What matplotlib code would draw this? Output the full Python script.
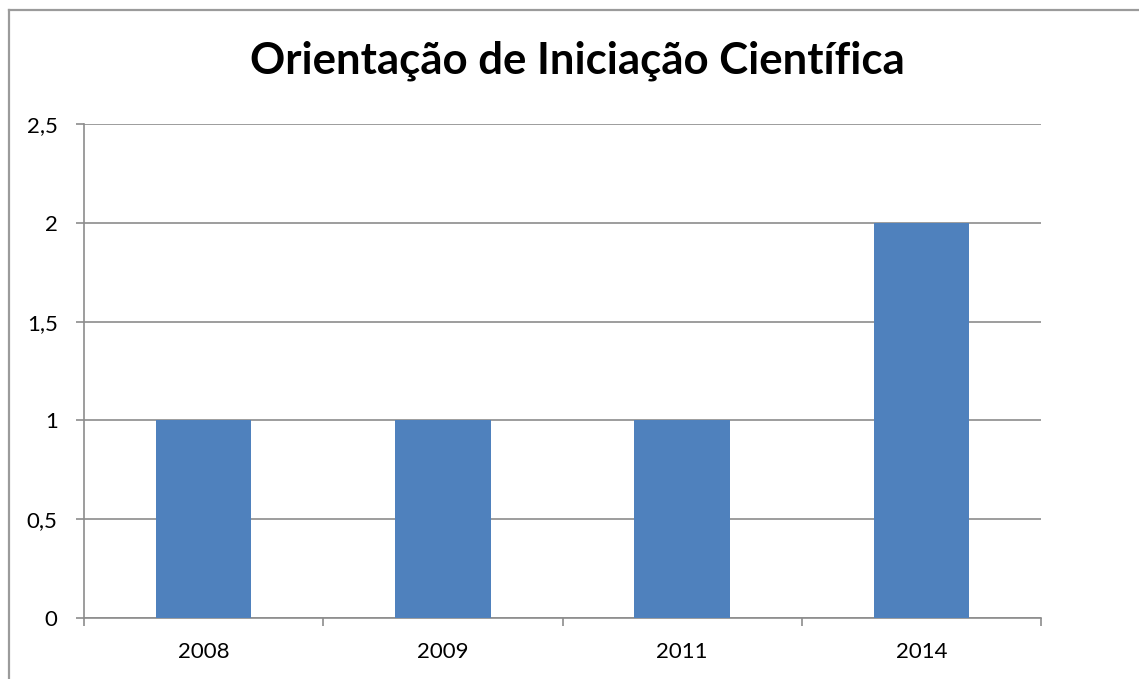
import matplotlib
matplotlib.use("Agg")
import matplotlib.pyplot as plt
from matplotlib.lines import Line2D
from matplotlib.ticker import FixedLocator, FuncFormatter

categories = ["2008", "2009", "2011", "2014"]
values = [1, 1, 1, 2]
yticks = [0, 0.5, 1, 1.5, 2, 2.5]
ytick_labels = ["0", "0,5", "1", "1,5", "2", "2,5"]
title = "Orientação de Iniciação Científica"

W, H = 1139, 679
fig = plt.figure(figsize=(W / 100, H / 100), dpi=100)
plt.rcParams['font.family'] = ['Lato', 'DejaVu Sans']

# outer chart border (left/top visible only)
bx, by = 8.5 / W, 1 - 9.5 / H
fig.add_artist(Line2D([bx, bx], [-0.01, by], transform=fig.transFigure, color="#9b9b9b", linewidth=1.6))
fig.add_artist(Line2D([bx, 1.01], [by, by], transform=fig.transFigure, color="#9b9b9b", linewidth=1.6))

ax = fig.add_axes([84 / W, 1 - 618 / H, (1041 - 84) / W, (618 - 124) / H])
x = list(range(len(categories)))
ax.bar(x, values, width=0.4, color="#4F81BD", zorder=3)
ax.set_xlim(-0.5, len(categories) - 0.5)
ax.set_ylim(0, 2.5)

grid_color = "#8c8c8c"
for s in ["top", "right"]:
    ax.spines[s].set_visible(False)
for s in ["left", "bottom"]:
    ax.spines[s].set_color(grid_color)
    ax.spines[s].set_linewidth(1.2)
ax.yaxis.grid(True, color=grid_color, linewidth=1.2, zorder=0)
ax.set_axisbelow(True)

ax.set_yticks(yticks)
ax.set_yticklabels(ytick_labels)
ax.xaxis.set_major_locator(FixedLocator([i - 0.5 for i in range(len(categories) + 1)]))
ax.xaxis.set_major_formatter(FuncFormatter(lambda v, p: ""))
ax.xaxis.set_minor_locator(FixedLocator(x))
ax.xaxis.set_minor_formatter(FuncFormatter(lambda v, p: categories[int(round(v))]))
ax.tick_params(axis="x", which="major", length=6, width=1.2, color=grid_color)
ax.tick_params(axis="x", which="minor", length=0, pad=17, labelsize=16)
ax.tick_params(axis="y", length=6, width=1.2, color=grid_color, labelsize=16, pad=13)

fig.text(577 / W, 1 - 61 / H, title, ha="center", va="center", fontsize=31.5, fontweight="bold")

fig.savefig("out.png", dpi=100)
